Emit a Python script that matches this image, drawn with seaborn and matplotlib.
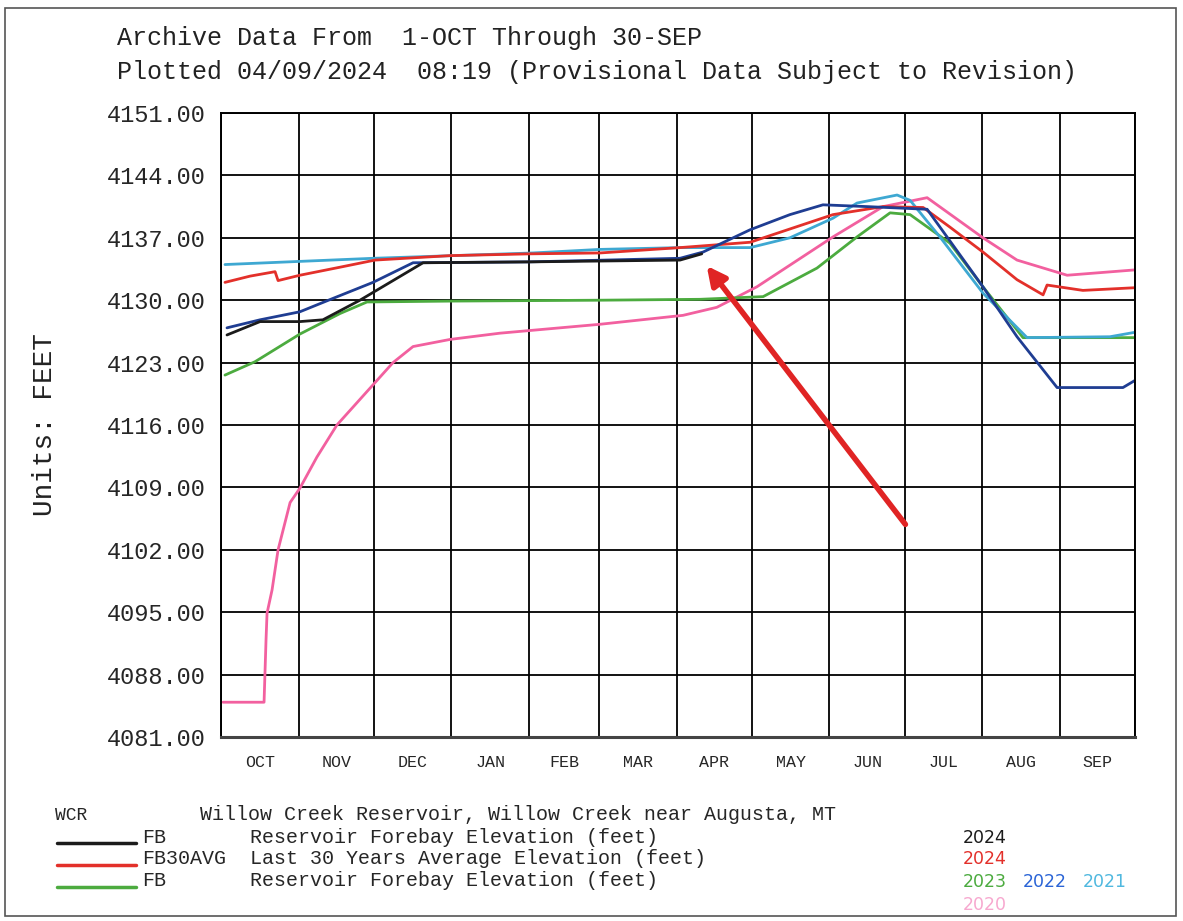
import numpy as np
import pandas as pd
import matplotlib
matplotlib.use('Agg')
import matplotlib.pyplot as plt
import matplotlib.patches as patches
import seaborn as sns

# ============================================================
# DATA (water-year day 0 = 1-OCT, elevation in feet)
# ============================================================
day_2024 = [2.4, 15.6, 31.5, 40.7, 55.5, 80.7, 123.4, 183.3, 192.0]
elev_2024 = [4126.1, 4127.6, 4127.6, 4127.8, 4130.0, 4134.2, 4134.3, 4134.5, 4135.2]

day_avg = [1.6, 11.6, 21.6, 22.8, 31.5, 47.5, 61.5, 91.5, 123.4, 151.4, 183.3, 211.3,
           244.4, 264.4, 280.4, 291.1, 304.3, 317.9, 328.3, 329.9, 344.2, 365.0]
elev_avg = [4132.0, 4132.7, 4133.2, 4132.2, 4132.8, 4133.7, 4134.5, 4135.0, 4135.2, 4135.3, 4135.9, 4136.5,
            4139.6, 4140.5, 4140.4, 4138.2, 4135.4, 4132.3, 4130.6, 4131.7, 4131.1, 4131.4]

day_2023 = [1.6, 13.6, 31.5, 47.5, 58.3, 91.5, 151.4, 191.3, 216.5, 238.0, 254.0, 267.2,
            275.2, 291.1, 304.3, 320.3, 365.0]
elev_2023 = [4121.6, 4123.1, 4126.2, 4128.5, 4129.8, 4129.9, 4130.0, 4130.1, 4130.4, 4133.6, 4137.1, 4139.8,
             4139.6, 4136.4, 4131.5, 4125.8, 4125.8]

day_2022 = [2.4, 15.6, 31.5, 44.7, 60.7, 76.7, 123.4, 183.3, 192.5, 211.3, 227.2, 240.4,
            258.0, 282.0, 304.3, 317.9, 333.9, 360.2, 365.0]
elev_2022 = [4126.9, 4127.8, 4128.7, 4130.2, 4132.0, 4134.2, 4134.3, 4134.7, 4135.4, 4137.9, 4139.6, 4140.7,
             4140.5, 4140.2, 4131.5, 4125.9, 4120.2, 4120.2, 4121.0]

day_2021 = [1.6, 60.7, 124.6, 151.4, 183.3, 211.3, 227.2, 244.4, 254.0, 270.0, 275.2, 287.1,
            304.3, 321.9, 355.0, 365.0]
elev_2021 = [4134.0, 4134.7, 4135.3, 4135.7, 4135.9, 4135.9, 4137.0, 4139.2, 4140.9, 4141.8, 4141.2, 4137.1,
             4130.8, 4125.8, 4125.9, 4126.4]

day_2020 = [0.8, 17.2, 18.0, 18.4, 20.4, 22.8, 27.6, 31.5, 38.3, 46.3, 52.7, 60.7, 68.7, 76.7,
            91.5, 111.4, 151.4, 184.5, 198.0, 214.0, 244.4, 264.4, 282.0, 304.3, 317.9, 337.9, 365.0]
elev_2020 = [4084.9, 4084.9, 4092.0, 4094.9, 4097.5, 4102.0, 4107.3, 4108.9, 4112.4, 4116.0, 4118.0, 4120.5,
             4123.0, 4124.8, 4125.6, 4126.3, 4127.3, 4128.3, 4129.2, 4131.5, 4137.1, 4140.5, 4141.5,
             4137.0, 4134.5, 4132.8, 4133.4]

month_labels = ['OCT', 'NOV', 'DEC', 'JAN', 'FEB', 'MAR', 'APR', 'MAY', 'JUN', 'JUL', 'AUG', 'SEP']
month_edges = [0, 31, 61, 92, 123, 151, 182, 212, 243, 273, 304, 335, 365]
y_ticks = [4081, 4088, 4095, 4102, 4109, 4116, 4123, 4130, 4137, 4144, 4151]

# red arrow pointing at today's value (tail -> head)
arrow_tail = (274.0, 4104.6)
arrow_head = (193.3, 4134.1)

colors = {
    '2020': '#f2609f',
    '2023': '#4cab3f',
    '2021': '#3ea8d2',
    'FB30AVG': '#e3302a',
    '2022': '#1f3d92',
    '2024': '#1b1b1b',
}

frames = []
for name, d, e in [('2020', day_2020, elev_2020), ('2023', day_2023, elev_2023),
                   ('2021', day_2021, elev_2021), ('FB30AVG', day_avg, elev_avg),
                   ('2022', day_2022, elev_2022), ('2024', day_2024, elev_2024)]:
    frames.append(pd.DataFrame({'day': d, 'elev': e, 'series': name}))
df = pd.concat(frames, ignore_index=True)

# ============================================================
# PLOT
# ============================================================
sns.set_style('white')
plt.rcParams['font.family'] = ['Liberation Mono', 'DejaVu Sans']

fig = plt.figure(figsize=(11.83, 9.21), dpi=100)
ax = fig.add_axes([0.1868, 0.1998, 0.7726, 0.6775])

sns.lineplot(data=df, x='day', y='elev', hue='series', hue_order=list(colors.keys()),
             palette=colors, estimator=None, sort=False, linewidth=2.0, legend=False, ax=ax)

ax.set_xlim(0, 365)
ax.set_ylim(4081, 4151)

ax.set_xticks(month_edges)
ax.set_xticklabels([])
mids = [(month_edges[i] + month_edges[i + 1]) / 2 for i in range(12)]
ax.set_xticks(mids, minor=True)
ax.set_xticklabels(month_labels, minor=True, fontsize=12)
ax.tick_params(axis='x', which='major', length=11, width=1.3, color='black', direction='out')
ax.tick_params(axis='x', which='minor', length=0, pad=13)

ax.set_yticks(y_ticks)
ax.set_yticklabels([f'{v:.2f}' for v in y_ticks], fontsize=17)
ax.tick_params(axis='y', length=8, width=1.3, color='black', direction='out', pad=3)

ax.grid(True, which='major', color='black', linewidth=1.3)
ax.set_axisbelow(True)
for s in ax.spines.values():
    s.set_color('black')
    s.set_linewidth(1.4)
ax.spines['bottom'].set_linewidth(2.2)
ax.spines['bottom'].set_color('#444444')
ax.set_xlabel('')
ax.set_ylabel('')

ax.annotate('', xy=arrow_head, xytext=arrow_tail,
            arrowprops=dict(arrowstyle='-|>', color='#e02424', lw=4, mutation_scale=28))

# titles
fig.text(117 / 1183, 1 - 38 / 921, 'Archive Data From  1-OCT Through 30-SEP',
         fontsize=18, va='center', ha='left', color='#222222')
fig.text(117 / 1183, 1 - 72 / 921, 'Plotted 04/09/2024  08:19 (Provisional Data Subject to Revision)',
         fontsize=18, va='center', ha='left', color='#222222')
fig.text(45 / 1183, 1 - 425 / 921, 'Units: FEET', fontsize=20, rotation=90,
         va='center', ha='center', color='#222222')

# legend block
W, H = 1183, 921
def fx(px):
    return px / W
def fy(py):
    return 1 - py / H

fig.text(fx(55), fy(815), 'WCR', fontsize=13, va='center')
fig.text(fx(200), fy(815), 'Willow Creek Reservoir, Willow Creek near Augusta, MT', fontsize=14.4, va='center')
legend_rows = [('FB', 'Reservoir Forebay Elevation (feet)', colors['2024'], 837, 843),
               ('FB30AVG', 'Last 30 Years Average Elevation (feet)', colors['FB30AVG'], 858, 865),
               ('FB', 'Reservoir Forebay Elevation (feet)', colors['2023'], 880, 887)]
for code, desc, col, ty, ly in legend_rows:
    fig.text(fx(142), fy(ty), code, fontsize=14.4, va='center')
    fig.text(fx(250), fy(ty), desc, fontsize=14.4, va='center')
    fig.add_artist(plt.Line2D([fx(57), fx(136)], [fy(ly), fy(ly)], color=col, lw=2.5,
                              transform=fig.transFigure))

year_labels = [('2024', colors['2024'], 963, 838), ('2024', colors['FB30AVG'], 963, 859),
               ('2023', colors['2023'], 963, 882), ('2022', '#2a64d6', 1023, 882),
               ('2021', '#4fb8df', 1083, 882), ('2020', '#f7a8cf', 963, 905)]
for txt, col, x, y in year_labels:
    fig.text(fx(x), fy(y), txt, fontsize=12.5, color=col, va='center', family='DejaVu Sans')

# page border
fig.add_artist(patches.Rectangle((fx(5), fy(916)), fx(1176) - fx(5), fy(8) - fy(916),
                                 transform=fig.transFigure, fill=False, edgecolor='#555555', lw=1.2))

fig.savefig('out.png', dpi=100)
